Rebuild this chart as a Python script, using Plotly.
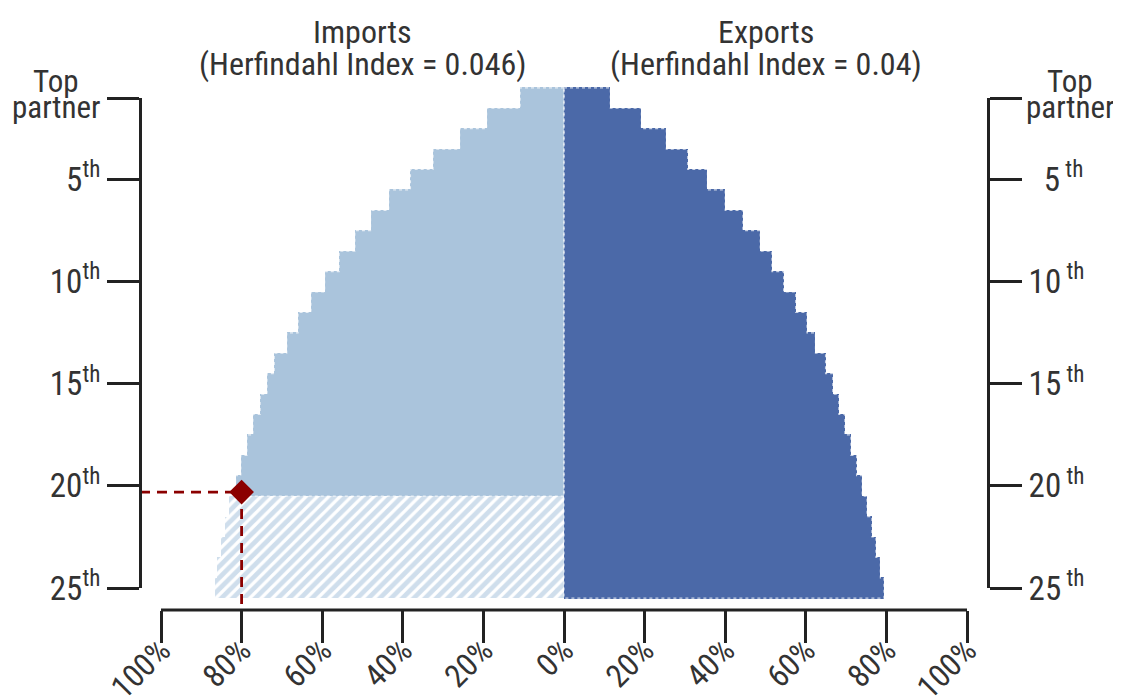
import numpy as np
import plotly.graph_objects as go

# ---------------- data ----------------
ranks = list(range(1, 26))
imports_cum = [10.9, 19.2, 25.9, 32.5, 38.1, 43.5, 48.0, 51.9, 55.8, 59.4,
               62.8, 66.0, 68.8, 71.9, 73.7, 75.4, 77.2, 78.7, 80.2, 81.5,
               83.1, 84.1, 85.1, 86.0, 86.6]
exports_cum = [11.5, 19.2, 25.4, 30.7, 35.6, 40.0, 44.4, 48.7, 51.6, 54.5,
               57.5, 60.3, 62.4, 64.9, 66.7, 68.2, 69.7, 71.2, 72.6, 74.0,
               75.2, 76.4, 77.4, 78.5, 79.4]
solid_imports_n = 20          # imports ranks drawn solid; the rest hatched
tick_ranks = [1, 5, 10, 15, 20, 25]
left_tick_text = ["", "5<sup>th</sup>", "10<sup>th</sup>", "15<sup>th</sup>",
                  "20<sup>th</sup>", "25<sup>th</sup>"]
right_tick_text = ["", "\u00a0\u00a05<sup>\u00a0th</sup>", "10<sup>\u00a0th</sup>",
                   "15<sup>\u00a0th</sup>", "20<sup>\u00a0th</sup>", "25<sup>\u00a0th</sup>"]
pct_tickvals = [-100, -80, -60, -40, -20, 0, 20, 40, 60, 80, 100]
pct_ticktext = ["100%", "80%", "60%", "40%", "20%", "0%",
                "20%", "40%", "60%", "80%", "100%"]
imports_title = ["Imports", "(Herfindahl Index = 0.046)"]
exports_title = ["Exports", "(Herfindahl Index = 0.04)"]
top_label = ["Top", "partner"]
marker_share = 80
marker_rank = 20.3

# ---------------- style / layout constants ----------------
SW, SH = 1121, 698          # screen size
OFF = 8                     # page body margin (px)
W, H = SW - OFF, SH - OFF   # figure size
PLOT_L, PLOT_R, PLOT_T, PLOT_B = 140, 988, 80, 610   # plot area on screen
ML, MR = PLOT_L - OFF, W - (PLOT_R - OFF)
MT, MB = PLOT_T - OFF, H - (PLOT_B - OFF)
PW, PH = W - ML - MR, H - MT - MB
AXIS_PAD_PX = 21                       # gap between side axes and x-axis ends
ppp = (PW - 2 * AXIS_PAD_PX) / 200.0   # pixels per percent
xpad = AXIS_PAD_PX / ppp
XRANGE = [-100 - xpad, 100 + xpad]
RANK1_PX, RANK25_PX = 98, 588          # screen rows of first/last rank
rs = (RANK25_PX - RANK1_PX) / 24.0
y_top = 1 - (RANK1_PX - PLOT_T) / rs
y_bot = 1 + (PLOT_B - RANK1_PX) / rs
YRANGE = [y_bot, y_top]
side_domain = [(PLOT_B - RANK25_PX) / PH, (PLOT_B - RANK1_PX) / PH]

IMP_COLOR = "#aac4dc"
HATCH_COLOR = "#a0bdd9"
EXP_COLOR = "#4b69a8"
RED = "#8b0000"
AX = "#222222"
TXT = "#333333"
FONT = "Roboto Condensed, Liberation Sans, sans-serif"
FS_Y = 33
FS_X = 32
FS_TOP = 31
FS_TITLE = 32
BAR_W = 1.04


def px_to_paper_x(p):
    return (p - PLOT_L) / PW


def px_to_paper_y(p):
    return (PLOT_B - p) / PH


imp = np.array(imports_cum)
exp_ = np.array(exports_cum)
rk = np.array(ranks)

fig = go.Figure()

# solid imports
fig.add_trace(go.Bar(
    x=-imp[:solid_imports_n], y=rk[:solid_imports_n], orientation="h", width=BAR_W,
    marker=dict(color=IMP_COLOR, line=dict(width=0)),
    hoverinfo="skip", showlegend=False))
# hatched imports
fig.add_trace(go.Bar(
    x=-imp[solid_imports_n:], y=rk[solid_imports_n:], orientation="h", width=1,
    marker=dict(color="white", line=dict(width=0),
                pattern=dict(shape="/", fgcolor=HATCH_COLOR, bgcolor="white",
                             size=8, solidity=0.6)),
    hoverinfo="skip", showlegend=False))
# exports
fig.add_trace(go.Bar(
    x=exp_, y=rk, orientation="h", width=BAR_W,
    marker=dict(color=EXP_COLOR, line=dict(width=0)),
    hoverinfo="skip", showlegend=False))


def step_outline(vals, rks, sign):
    xs, ys = [0.0], [rks[0] - 0.5]
    for v, r in zip(vals, rks):
        xs += [sign * v, sign * v]
        ys += [r - 0.5, r + 0.5]
    xs += [0.0, 0.0]
    ys += [rks[-1] + 0.5, rks[0] - 0.5]
    return xs, ys


for vals, rks, sign in [(imp[:solid_imports_n], rk[:solid_imports_n], -1),
                        (exp_, rk, 1)]:
    xs, ys = step_outline(vals, rks, sign)
    fig.add_trace(go.Scatter(x=xs, y=ys, mode="lines",
                             line=dict(color="rgba(255,255,255,0.7)", width=1.2, dash="dot"),
                             hoverinfo="skip", showlegend=False))

# red dashed guides
fig.add_trace(go.Scatter(x=[XRANGE[0], -marker_share], y=[marker_rank, marker_rank],
                         mode="lines", line=dict(color=RED, width=2.8, dash="10px,7px"),
                         hoverinfo="skip", showlegend=False))
fig.add_trace(go.Scatter(x=[-marker_share, -marker_share], y=[marker_rank, YRANGE[0]],
                         mode="lines", line=dict(color=RED, width=2.8, dash="10px,7px"),
                         hoverinfo="skip", showlegend=False))
fig.add_trace(go.Scatter(x=[-marker_share], y=[marker_rank], mode="markers",
                         marker=dict(symbol="diamond", size=19, color=RED),
                         cliponaxis=False, hoverinfo="skip", showlegend=False))

# invisible anchors so the side axes get drawn
for ya in ["y2", "y3"]:
    fig.add_trace(go.Scatter(x=[0], y=[1], yaxis=ya, mode="markers",
                             marker=dict(opacity=0), hoverinfo="skip", showlegend=False))

side_axis = dict(range=[25, 1], domain=side_domain, anchor="free", automargin=False,
                 showline=True, linecolor=AX, linewidth=3,
                 ticks="outside", ticklen=32, tickwidth=3, tickcolor=AX,
                 tickvals=tick_ranks, showgrid=False, zeroline=False,
                 tickfont=dict(family=FONT, size=FS_Y, color=TXT))

fig.update_layout(
    width=W, height=H,
    margin=dict(l=ML, r=MR, t=MT, b=MB, autoexpand=False),
    paper_bgcolor="white", plot_bgcolor="rgba(0,0,0,0)",
    barmode="overlay", bargap=0,
    showlegend=False,
    font=dict(family=FONT, size=FS_Y, color=TXT),
    xaxis=dict(range=XRANGE, domain=[0, 1], showline=False, showgrid=False,
               zeroline=False, ticks="outside", ticklen=32, tickwidth=3, automargin=False,
               tickcolor=AX, tickvals=pct_tickvals, ticktext=pct_ticktext,
               tickangle=-45, ticklabelstandoff=-24,
               tickfont=dict(family=FONT, size=FS_X, color=TXT)),
    yaxis=dict(range=YRANGE, visible=False, showgrid=False, zeroline=False, automargin=False),
    yaxis2=dict(side_axis, side="left", position=0, ticktext=left_tick_text),
    yaxis3=dict(side_axis, side="right", position=1, ticktext=right_tick_text),
)

# x-axis baseline
fig.add_shape(type="line", xref="x", yref="paper", x0=-100, x1=100, y0=0, y1=0,
              line=dict(color=AX, width=3))

# titles
for xc, lines in [(-50, imports_title), (50, exports_title)]:
    for txt, ypix in zip(lines, [32, 64]):
        fig.add_annotation(x=xc, xref="x", y=px_to_paper_y(ypix), yref="paper",
                           text=txt, showarrow=False, xanchor="center", yanchor="middle",
                           font=dict(family=FONT, size=FS_TITLE, color=TXT))

# "Top partner" labels on both sides
for xpix in [56, 1070]:
    for txt, ypix in zip(top_label, [81, 107]):
        fig.add_annotation(x=px_to_paper_x(xpix), xref="paper", y=px_to_paper_y(ypix),
                           yref="paper", text=txt, showarrow=False,
                           xanchor="center", yanchor="middle",
                           font=dict(family=FONT, size=FS_TOP, color=TXT))

fig.write_html("out.html")
